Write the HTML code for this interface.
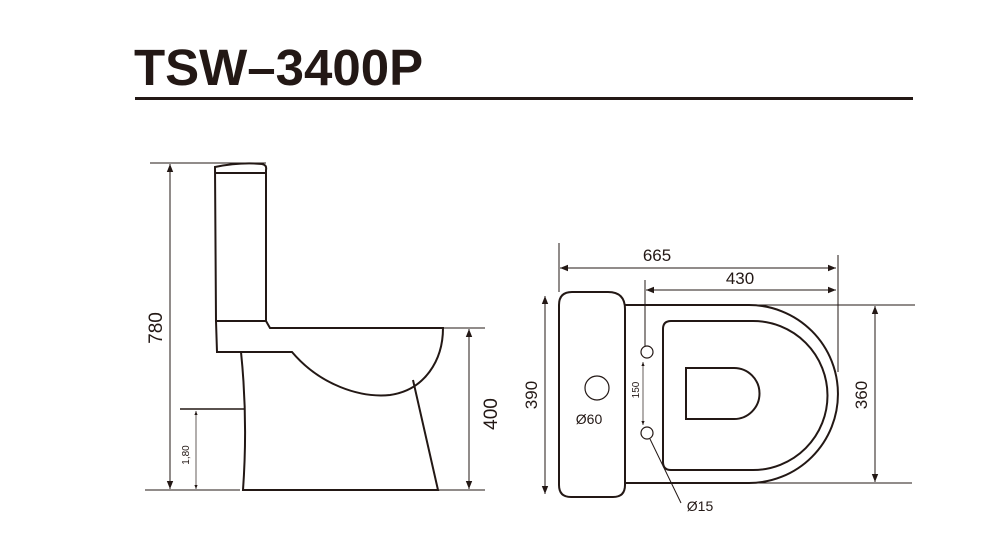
<!DOCTYPE html>
<html><head><meta charset="utf-8"><style>
html,body{margin:0;padding:0;background:#fff;width:992px;height:556px;overflow:hidden}
svg{display:block}
text{font-family:"Liberation Sans",sans-serif;fill:#231815}
</style></head><body>
<svg width="992" height="556" viewBox="0 0 992 556" xmlns="http://www.w3.org/2000/svg">
<defs>
<marker id="a" viewBox="0 0 10 10" refX="10" refY="5" markerWidth="10" markerHeight="8" orient="auto-start-reverse" markerUnits="userSpaceOnUse"><path d="M0,1 L10,5 L0,9 Z" fill="#231815"/></marker>
<marker id="s" viewBox="0 0 10 10" refX="10" refY="5" markerWidth="5" markerHeight="4" orient="auto-start-reverse" markerUnits="userSpaceOnUse"><path d="M0,1 L10,5 L0,9 Z" fill="#231815"/></marker>
</defs>
<text x="134" y="85" font-size="51" font-weight="bold">TSW–3400P</text>
<rect x="135" y="97" width="778" height="3" fill="#231815"/>

<g fill="none" stroke="#231815" stroke-width="2">
<path d="M216,321 L215,167 Q240,162 262,164 Q267,165 266,170 L266,321 Z"/>
<line x1="216" y1="173" x2="266" y2="173"/>
<path d="M216,321 L266,321 L270,328 L443,328 C443,360 425,390 390,395 C360,398 320,385 292,352 L217,352 Z"/>
<path d="M241,352 Q248,420 243,490 L438,490 L413,380"/>
</g>
<g stroke="#231815" stroke-width="1" fill="none">
<line x1="150" y1="163" x2="266" y2="163"/>
<line x1="145" y1="490" x2="240" y2="490"/>
<line x1="170" y1="164" x2="170" y2="489" marker-start="url(#a)" marker-end="url(#a)"/>
<line x1="180" y1="409" x2="245" y2="409" stroke-width="1.5"/>
<line x1="196" y1="411" x2="196" y2="489" marker-start="url(#s)" marker-end="url(#s)" stroke-width="0.7"/>
<line x1="443" y1="328" x2="485" y2="328"/>
<line x1="438" y1="490" x2="485" y2="490"/>
<line x1="469" y1="329" x2="469" y2="489" marker-start="url(#a)" marker-end="url(#a)"/>
</g>
<text transform="translate(162,328) rotate(-90)" font-size="19" text-anchor="middle">780</text>
<text transform="translate(189,455) rotate(-90)" font-size="10" text-anchor="middle">1,80</text>
<text transform="translate(497,414) rotate(-90)" font-size="19" text-anchor="middle">400</text>

<g fill="none" stroke="#231815" stroke-width="2">
<path d="M572,292 L608,292 Q625,292 625,309 L625,485 Q625,497 613,497 L571,497 Q559,497 559,485 L559,305 Q559,292 572,292 Z"/>
<path d="M625,305 H749 A89,89 0 0 1 749,483 H625"/>
<path d="M671,321 H753 A74.5,74.5 0 0 1 753,470 H671 Q663,470 663,462 V329 Q663,321 671,321 Z"/>
<path d="M686,368 H734 A25.5,25.5 0 0 1 734,419 H686 Z"/>
</g>
<g fill="none" stroke="#231815" stroke-width="1.2">
<circle cx="597" cy="388" r="12"/>
<circle cx="647" cy="352" r="6"/>
<circle cx="647" cy="433" r="6"/>
</g>
<g stroke="#231815" stroke-width="1" fill="none">
<line x1="559" y1="243" x2="559" y2="292"/>
<line x1="838" y1="255" x2="838" y2="372"/>
<line x1="645" y1="280" x2="645" y2="346"/>
<line x1="560" y1="268" x2="836" y2="268" marker-start="url(#a)" marker-end="url(#a)"/>
<line x1="646" y1="290" x2="836" y2="290" marker-start="url(#a)" marker-end="url(#a)"/>
<line x1="643" y1="362" x2="643" y2="425" marker-start="url(#s)" marker-end="url(#s)" stroke-width="0.7"/>
<line x1="545" y1="296" x2="545" y2="494" marker-start="url(#a)" marker-end="url(#a)"/>
<line x1="749" y1="305" x2="915" y2="305"/>
<line x1="749" y1="483" x2="912" y2="483"/>
<line x1="875" y1="306" x2="875" y2="482" marker-start="url(#a)" marker-end="url(#a)"/>
<line x1="650" y1="439" x2="681" y2="503"/>
</g>
<text x="657" y="261" font-size="17" text-anchor="middle">665</text>
<text x="740" y="284" font-size="17" text-anchor="middle">430</text>
<text transform="translate(537,395) rotate(-90)" font-size="17" text-anchor="middle">390</text>
<text transform="translate(867,395) rotate(-90)" font-size="17" text-anchor="middle">360</text>
<text transform="translate(639,390) rotate(-90)" font-size="10" text-anchor="middle">150</text>
<text x="589" y="424" font-size="14" text-anchor="middle">Ø60</text>
<text x="700" y="511" font-size="14" text-anchor="middle">Ø15</text>
</svg>
</body></html>
